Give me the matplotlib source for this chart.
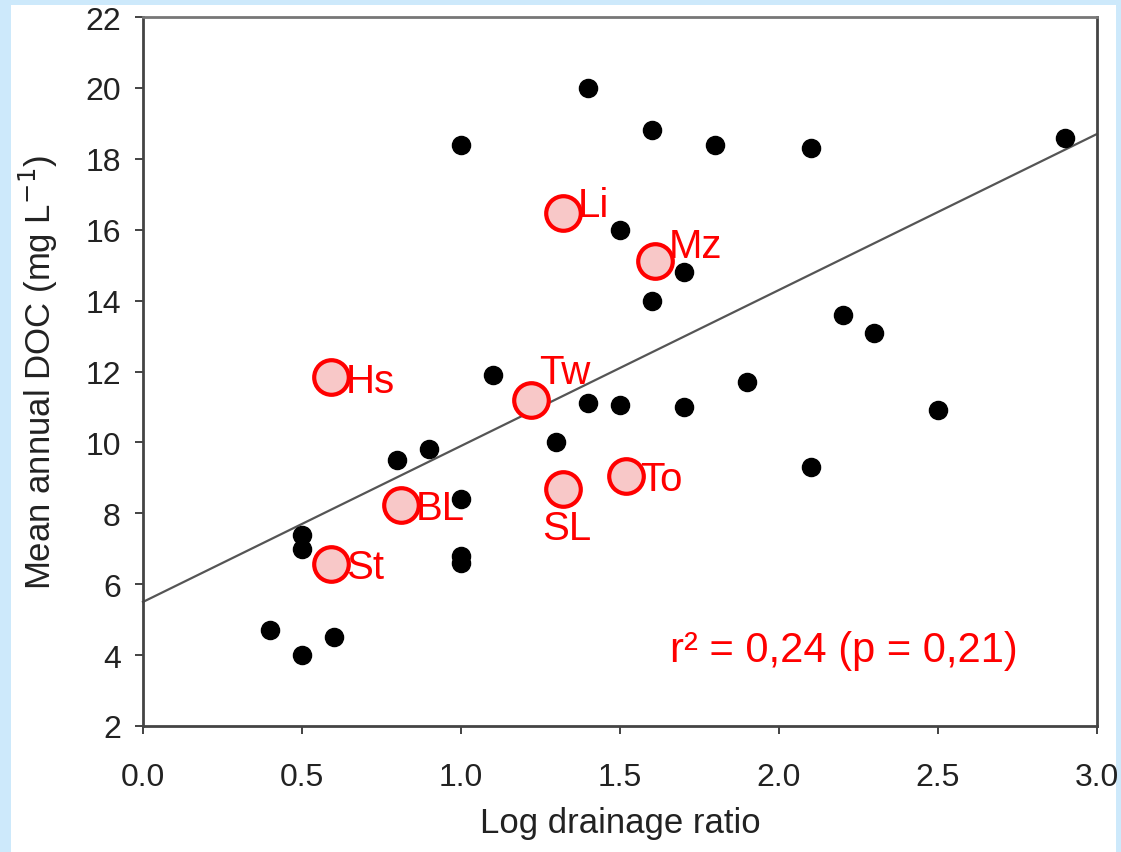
import matplotlib
matplotlib.use("Agg")
import matplotlib.pyplot as plt
from matplotlib.patches import Rectangle

plt.rcParams['font.family'] = ['Liberation Sans', 'DejaVu Sans']

# Black points (all sites)
x_all = [0.4, 0.5, 0.6, 0.5, 0.5, 0.8, 0.9, 1.0, 1.0, 1.0, 1.0, 1.1, 1.3, 1.4, 1.4,
         1.5, 1.5, 1.6, 1.6, 1.7, 1.7, 1.8, 1.9, 2.1, 2.1, 2.2, 2.3, 2.5, 2.9]
y_all = [4.7, 4.0, 4.5, 7.4, 7.0, 9.5, 9.8, 18.4, 8.4, 6.8, 6.6, 11.9, 10.0, 20.0, 11.1,
         16.0, 11.05, 18.8, 14.0, 14.8, 11.0, 18.4, 11.7, 18.3, 9.3, 13.6, 13.1, 10.9, 18.6]

# Highlighted sites
hl_names = ["Li", "Mz", "Hs", "Tw", "BL", "SL", "To", "St"]
hl_x = [1.32, 1.61, 0.59, 1.22, 0.81, 1.32, 1.52, 0.59]
hl_y = [16.47, 15.12, 11.85, 11.2, 8.23, 8.69, 9.05, 6.57]

# Regression line
fit_intercept = 5.5
fit_slope = 4.4

xticks = [0.0, 0.5, 1.0, 1.5, 2.0, 2.5, 3.0]
xtick_labels = ["0.0", "0.5", "1.0", "1.5", "2.0", "2.5", "3.0"]
yticks = list(range(2, 23, 2))

fig = plt.figure(figsize=(11.21, 8.53), dpi=100)
fig.patch.set_facecolor('#cde9fb')
bg = Rectangle((11/1121, 0), (1116-11)/1121, (853-6)/853,
               transform=fig.transFigure, facecolor='white',
               edgecolor='none', zorder=-10)
fig.patches.append(bg)

ax = fig.add_axes([143/1121, 126/853, (1097-143)/1121, (727-18)/853])
ax.set_zorder(5)
ax.set_facecolor('white')
ax.set_xlim(0, 3.0)
ax.set_ylim(2, 22)

# regression line
lx = [0.0, 3.0]
ly = [fit_intercept + fit_slope * v for v in lx]
ax.plot(lx, ly, color='#555555', lw=1.6, zorder=2, clip_on=False)

ax.scatter(x_all, y_all, s=170, color='black', zorder=3, clip_on=False)
ax.scatter(hl_x, hl_y, s=620, facecolor='#f8c8c8', edgecolor='#ff0000',
           linewidth=3, zorder=4)

# label offsets (in points)
offsets = {"Li": (11, 6), "Mz": (10, 11), "Hs": (11, -3), "Tw": (6, 20),
           "BL": (11, -2), "SL": (-15, -28), "To": (10, -2), "St": (11, -2)}
for n, xv, yv in zip(hl_names, hl_x, hl_y):
    dx, dy = offsets[n]
    ax.annotate(n, (xv, yv), xytext=(dx, dy), textcoords='offset points',
                color='#ff0000', fontsize=29, va='center', ha='left', zorder=5)

ax.text(0.735, 0.107, "r² = 0,24 (p = 0,21)", transform=ax.transAxes,
        color='#ff0000', fontsize=30, ha='center', va='center')

for s in ax.spines.values():
    s.set_color('#444444')
    s.set_linewidth(2)
ax.spines['top'].set_color('#777777')

ax.set_xticks(xticks)
ax.set_xticklabels(xtick_labels)
ax.set_yticks(yticks)
ax.tick_params(axis='both', direction='out', length=6, width=1.2,
               colors='#222222', labelsize=23)
ax.tick_params(axis='x', pad=20)
ax.tick_params(axis='y', pad=10)

ax.set_xlabel("Log drainage ratio", fontsize=25, color='#222222', labelpad=10)
ax.set_ylabel("Mean annual DOC (mg L$^{-1}$)", fontsize=25, color='#222222', labelpad=18)

fig.savefig("out.png", dpi=100, facecolor=fig.get_facecolor())
